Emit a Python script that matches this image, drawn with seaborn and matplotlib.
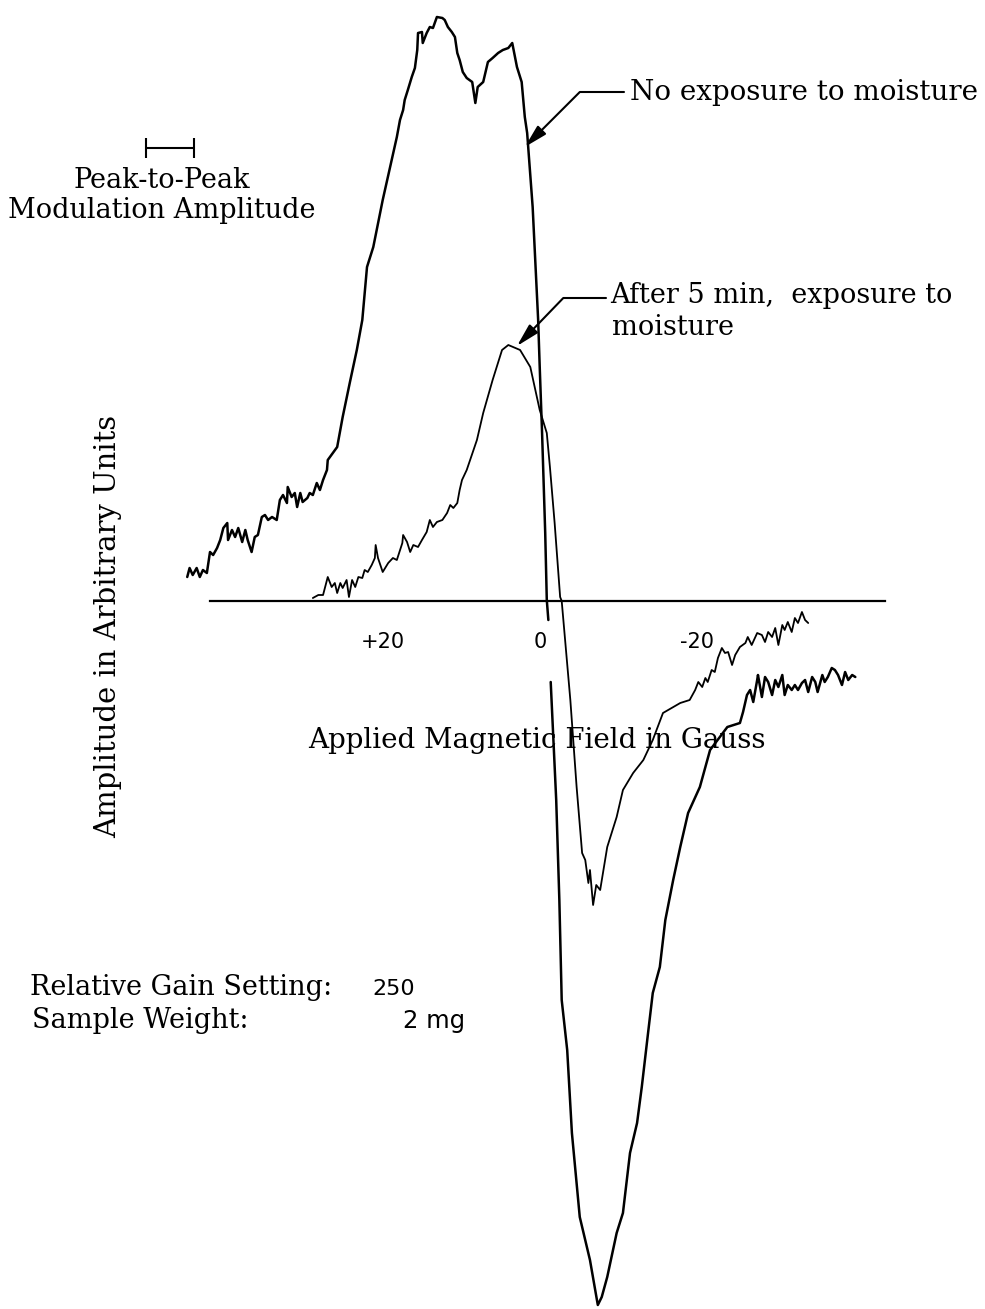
import numpy as np
import pandas as pd
import matplotlib
matplotlib.use("Agg")
import matplotlib.pyplot as plt
import matplotlib.transforms as mtransforms
import seaborn as sns

# --- data (field in gauss, amplitude in arbitrary units) ---
# no exposure to moisture, upper part (down to the pen lift just below 0)
dry_up_gauss = [45.7, 45.4, 45.0, 44.5, 44.1, 43.7, 43.2, 42.8, 42.4, 41.9, 41.5, 41.1,
                40.6, 40.5, 40.0, 39.6, 39.2, 38.7, 38.3, 38.0, 37.5, 37.1, 36.7, 36.2,
                35.8, 35.4, 34.9, 34.3, 33.9, 33.5, 33.0, 32.9, 32.4, 32.0, 31.7, 31.3,
                31.0, 30.4, 30.1, 29.7, 29.2, 28.8, 28.4, 27.9, 27.8, 26.6, 25.9, 25.0,
                24.1, 23.4, 22.8, 22.0, 20.8, 19.0, 18.6, 18.2, 18.0, 17.6, 17.1, 16.7,
                16.4, 16.3, 15.8, 15.7, 15.2, 14.8, 14.4, 13.9, 13.2, 12.9, 12.5, 12.0,
                11.6, 11.3, 11.0, 10.6, 10.1, 9.4, 9.0, 8.7, 8.0, 7.4, 6.8, 6.1,
                5.5, 4.8, 4.3, 3.7, 3.1, 2.7, 2.4, 1.7, 1.0, 0.8, 0.5, 0.1,
                -0.1, -0.3]
dry_up_amp = [2.4, 3.3, 2.6, 3.3, 2.4, 3.1, 2.8, 4.9, 4.6, 5.3, 6.1, 7.3,
              7.8, 6.1, 7.1, 6.4, 7.3, 5.9, 7.1, 6.1, 4.9, 6.4, 6.6, 8.4,
              8.6, 8.1, 8.4, 8.1, 10.1, 10.6, 9.8, 11.4, 10.4, 10.8, 9.4, 10.8,
              9.9, 10.3, 10.8, 10.6, 11.8, 11.1, 12.1, 13.1, 14.1, 15.4, 18.4, 21.8,
              25.1, 28.1, 33.4, 35.4, 40.1, 46.4, 48.1, 49.1, 50.1, 51.1, 52.4, 53.3,
              55.1, 56.8, 56.9, 55.8, 56.8, 57.4, 57.3, 58.4, 58.3, 58.1, 57.4, 56.9,
              56.4, 54.8, 54.1, 52.9, 52.3, 51.9, 49.8, 51.4, 51.9, 53.9, 54.3, 54.8,
              55.1, 55.3, 55.8, 53.4, 51.9, 48.4, 46.8, 39.4, 28.1, 23.4, 16.8, 6.8,
              0.1, -1.9]

# no exposure to moisture, lower part
dry_lo_gauss = [-0.6, -1.3, -1.7, -2.0, -2.7, -3.3, -4.3, -5.6, -6.6, -7.1, -7.8, -9.0,
                -9.8, -10.7, -11.6, -12.2, -13.0, -13.6, -14.5, -15.2, -16.2, -17.1, -18.1, -19.6,
                -20.9, -23.1, -24.7, -25.1, -25.6, -26.0, -26.4, -26.9, -27.0, -27.5, -27.9, -28.3,
                -28.8, -29.2, -29.6, -30.1, -30.4, -30.8, -31.3, -31.7, -32.1, -32.6, -33.0, -33.4,
                -33.9, -34.3, -34.6, -35.2, -35.5, -35.9, -36.4, -36.8, -37.2, -37.7, -38.1, -38.5,
                -39.0, -39.4]
dry_lo_amp = [-8.1, -19.9, -29.9, -39.9, -44.9, -53.2, -61.6, -65.9, -70.4, -69.6, -67.6, -63.2,
              -61.2, -55.2, -52.2, -48.6, -43.2, -39.2, -36.6, -31.9, -27.9, -24.6, -21.2, -18.6,
              -14.9, -12.6, -12.2, -11.1, -9.4, -8.9, -10.1, -7.9, -7.4, -9.6, -7.6, -8.1,
              -9.4, -7.9, -8.6, -7.4, -9.4, -8.4, -8.9, -8.4, -8.9, -8.2, -7.9, -9.1,
              -7.6, -8.1, -9.1, -7.4, -8.1, -7.6, -6.7, -6.9, -7.4, -8.4, -7.1, -7.9,
              -7.4, -7.6]

# after 5 min exposure to moisture
wet_gauss = [29.7, 29.0, 28.4, 27.8, 27.3, 26.9, 26.6, 26.2, 25.9, 25.4, 25.1, 24.7,
             24.3, 23.9, 23.4, 23.1, 22.7, 22.2, 21.8, 21.7, 21.4, 20.8, 20.1, 19.5,
             19.0, 18.3, 18.2, 17.7, 17.3, 16.9, 16.3, 15.8, 15.2, 14.8, 14.4, 13.9,
             13.2, 12.6, 12.2, 11.8, 11.3, 11.0, 10.7, 10.1, 8.8, 8.0, 6.8, 5.6,
             4.8, 3.3, 2.0, 0.8, -0.1, -0.5, -1.1, -1.8, -2.0, -3.1, -3.9, -4.6,
             -5.0, -5.4, -5.6, -6.0, -6.4, -6.9, -7.8, -9.0, -9.8, -11.1, -12.4, -13.6,
             -14.9, -17.1, -18.3, -19.0, -19.4, -19.9, -20.3, -20.6, -21.1, -21.5, -21.9, -22.4,
             -22.8, -23.2, -23.7, -24.1, -24.7, -25.4, -25.7, -26.2, -26.9, -27.5, -27.9, -28.3,
             -28.8, -29.2, -29.6, -30.1, -30.4, -30.8, -31.3, -31.7, -32.1, -32.6, -33.0, -33.4]
wet_amp = [0.3, 0.6, 0.6, 2.4, 1.4, 1.8, 0.8, 1.8, 1.3, 2.1, 0.4, 2.1,
           1.4, 2.4, 2.3, 3.1, 2.9, 3.6, 4.3, 5.6, 4.3, 2.9, 3.8, 4.3,
           4.1, 5.8, 6.6, 5.9, 4.9, 5.6, 5.4, 6.1, 6.9, 8.1, 7.4, 7.9,
           8.1, 8.8, 9.6, 9.3, 9.8, 11.1, 12.1, 13.1, 16.1, 18.8, 22.1, 25.1,
           25.6, 25.1, 23.4, 19.1, 16.8, 13.4, 7.8, 0.4, 0.0, -9.9, -18.6, -25.2,
           -25.9, -28.2, -26.9, -30.4, -28.4, -28.9, -24.6, -21.6, -18.9, -17.2, -15.9, -13.9,
           -11.2, -10.2, -9.9, -8.9, -8.1, -8.6, -7.7, -8.1, -6.9, -7.1, -5.7, -4.7,
           -5.2, -5.1, -6.4, -5.4, -4.6, -4.2, -3.6, -4.4, -3.2, -3.4, -4.1, -3.1,
           -3.6, -2.7, -4.4, -2.4, -2.9, -2.1, -3.1, -1.7, -2.2, -1.1, -1.9, -2.2]

tick_vals = [20, 0, -20]
tick_text = ["+20", "0", "-20"]
mod_amplitude = 6.2  # gauss, peak-to-peak bar

dry = pd.concat([
    pd.DataFrame({"gauss": dry_up_gauss, "amp": dry_up_amp, "seg": 0}),
    pd.DataFrame({"gauss": dry_lo_gauss, "amp": dry_lo_amp, "seg": 1}),
], ignore_index=True)
wet = pd.DataFrame({"gauss": wet_gauss, "amp": wet_amp, "seg": 0})

sns.set_style("white")
plt.rcParams["font.family"] = ["DejaVu Serif"]
plt.rcParams["text.color"] = "black"

W, H = 985, 1309
fig = plt.figure(figsize=(W / 100, H / 100), dpi=100)
ax = fig.add_axes([0, 0, 1, 1])

sns.lineplot(data=dry, x="gauss", y="amp", units="seg", estimator=None, sort=False,
             color="black", lw=1.8, ax=ax)
sns.lineplot(data=wet, x="gauss", y="amp", units="seg", estimator=None, sort=False,
             color="black", lw=1.3, ax=ax)

# field decreases to the right
ax.set_xlim(69.55, -55.92)
ax.set_ylim(-70.8, 60.1)

for s in ["left", "right", "top"]:
    ax.spines[s].set_visible(False)
ax.spines["bottom"].set_position(("data", 0))
ax.spines["bottom"].set_bounds(-43.2, 42.8)
ax.spines["bottom"].set_linewidth(1.6)
ax.spines["bottom"].set_color("black")
ax.set_xticks(tick_vals)
ax.set_xticklabels(tick_text, family="DejaVu Sans", fontsize=15)
ax.tick_params(axis="x", direction="out", length=14, width=1.5, pad=8, colors="black")
shift = mtransforms.ScaledTranslation(-6 / 100, 0, fig.dpi_scale_trans)
for lbl in ax.get_xticklabels():
    lbl.set_transform(lbl.get_transform() + shift)
ax.set_yticks([])
ax.set_xlabel("")
ax.set_ylabel("")


def fx(px):
    return px / W


def fy(py):
    return 1 - py / H


fs = 19.5
fig.text(fx(537), fy(748), "Applied Magnetic Field in Gauss", ha="center", va="baseline", fontsize=20)
fig.text(fx(108), fy(626), "Amplitude in Arbitrary Units", ha="center", va="center",
         rotation=90, fontsize=21)

# peak-to-peak modulation bar
ax.plot([51.0, 51.0 - mod_amplitude], [45.3, 45.3], color="black", lw=1.5,
        marker="|", markersize=14, markeredgewidth=1.5)
fig.text(fx(162), fy(188), "Peak-to-Peak", ha="center", va="baseline", fontsize=fs)
fig.text(fx(162), fy(218), "Modulation Amplitude", ha="center", va="baseline", fontsize=fs)

# curve labels with leader arrows
arrow = dict(arrowstyle="-|>,head_length=0.7,head_width=0.18", color="black", lw=1.5,
             mutation_scale=20, shrinkA=0, shrinkB=0)
fig.text(fx(630), fy(100), "No exposure to moisture", ha="left", va="baseline", fontsize=20)
ax.annotate("", xy=(2.7, 45.4), xycoords="data",
            xytext=(fx(624), fy(92)), textcoords="figure fraction",
            arrowprops=dict(arrow, connectionstyle="angle,angleA=0,angleB=45,rad=0"))
fig.text(fx(610), fy(303), "After 5 min,  exposure to", ha="left", va="baseline", fontsize=fs)
fig.text(fx(612), fy(335), "moisture", ha="left", va="baseline", fontsize=fs)
ax.annotate("", xy=(3.7, 25.5), xycoords="data",
            xytext=(fx(606), fy(298)), textcoords="figure fraction",
            arrowprops=dict(arrow, connectionstyle="angle,angleA=0,angleB=46,rad=0"))

fig.text(fx(30), fy(995), "Relative Gain Setting:", ha="left", va="baseline", fontsize=fs)
fig.text(fx(372), fy(995), "250", ha="left", va="baseline", fontsize=16, family="DejaVu Sans")
fig.text(fx(32), fy(1028), "Sample Weight:", ha="left", va="baseline", fontsize=fs)
fig.text(fx(403), fy(1028), "2 mg", ha="left", va="baseline", fontsize=17.5, family="DejaVu Sans")

fig.savefig("out.png", dpi=100, facecolor="white")
